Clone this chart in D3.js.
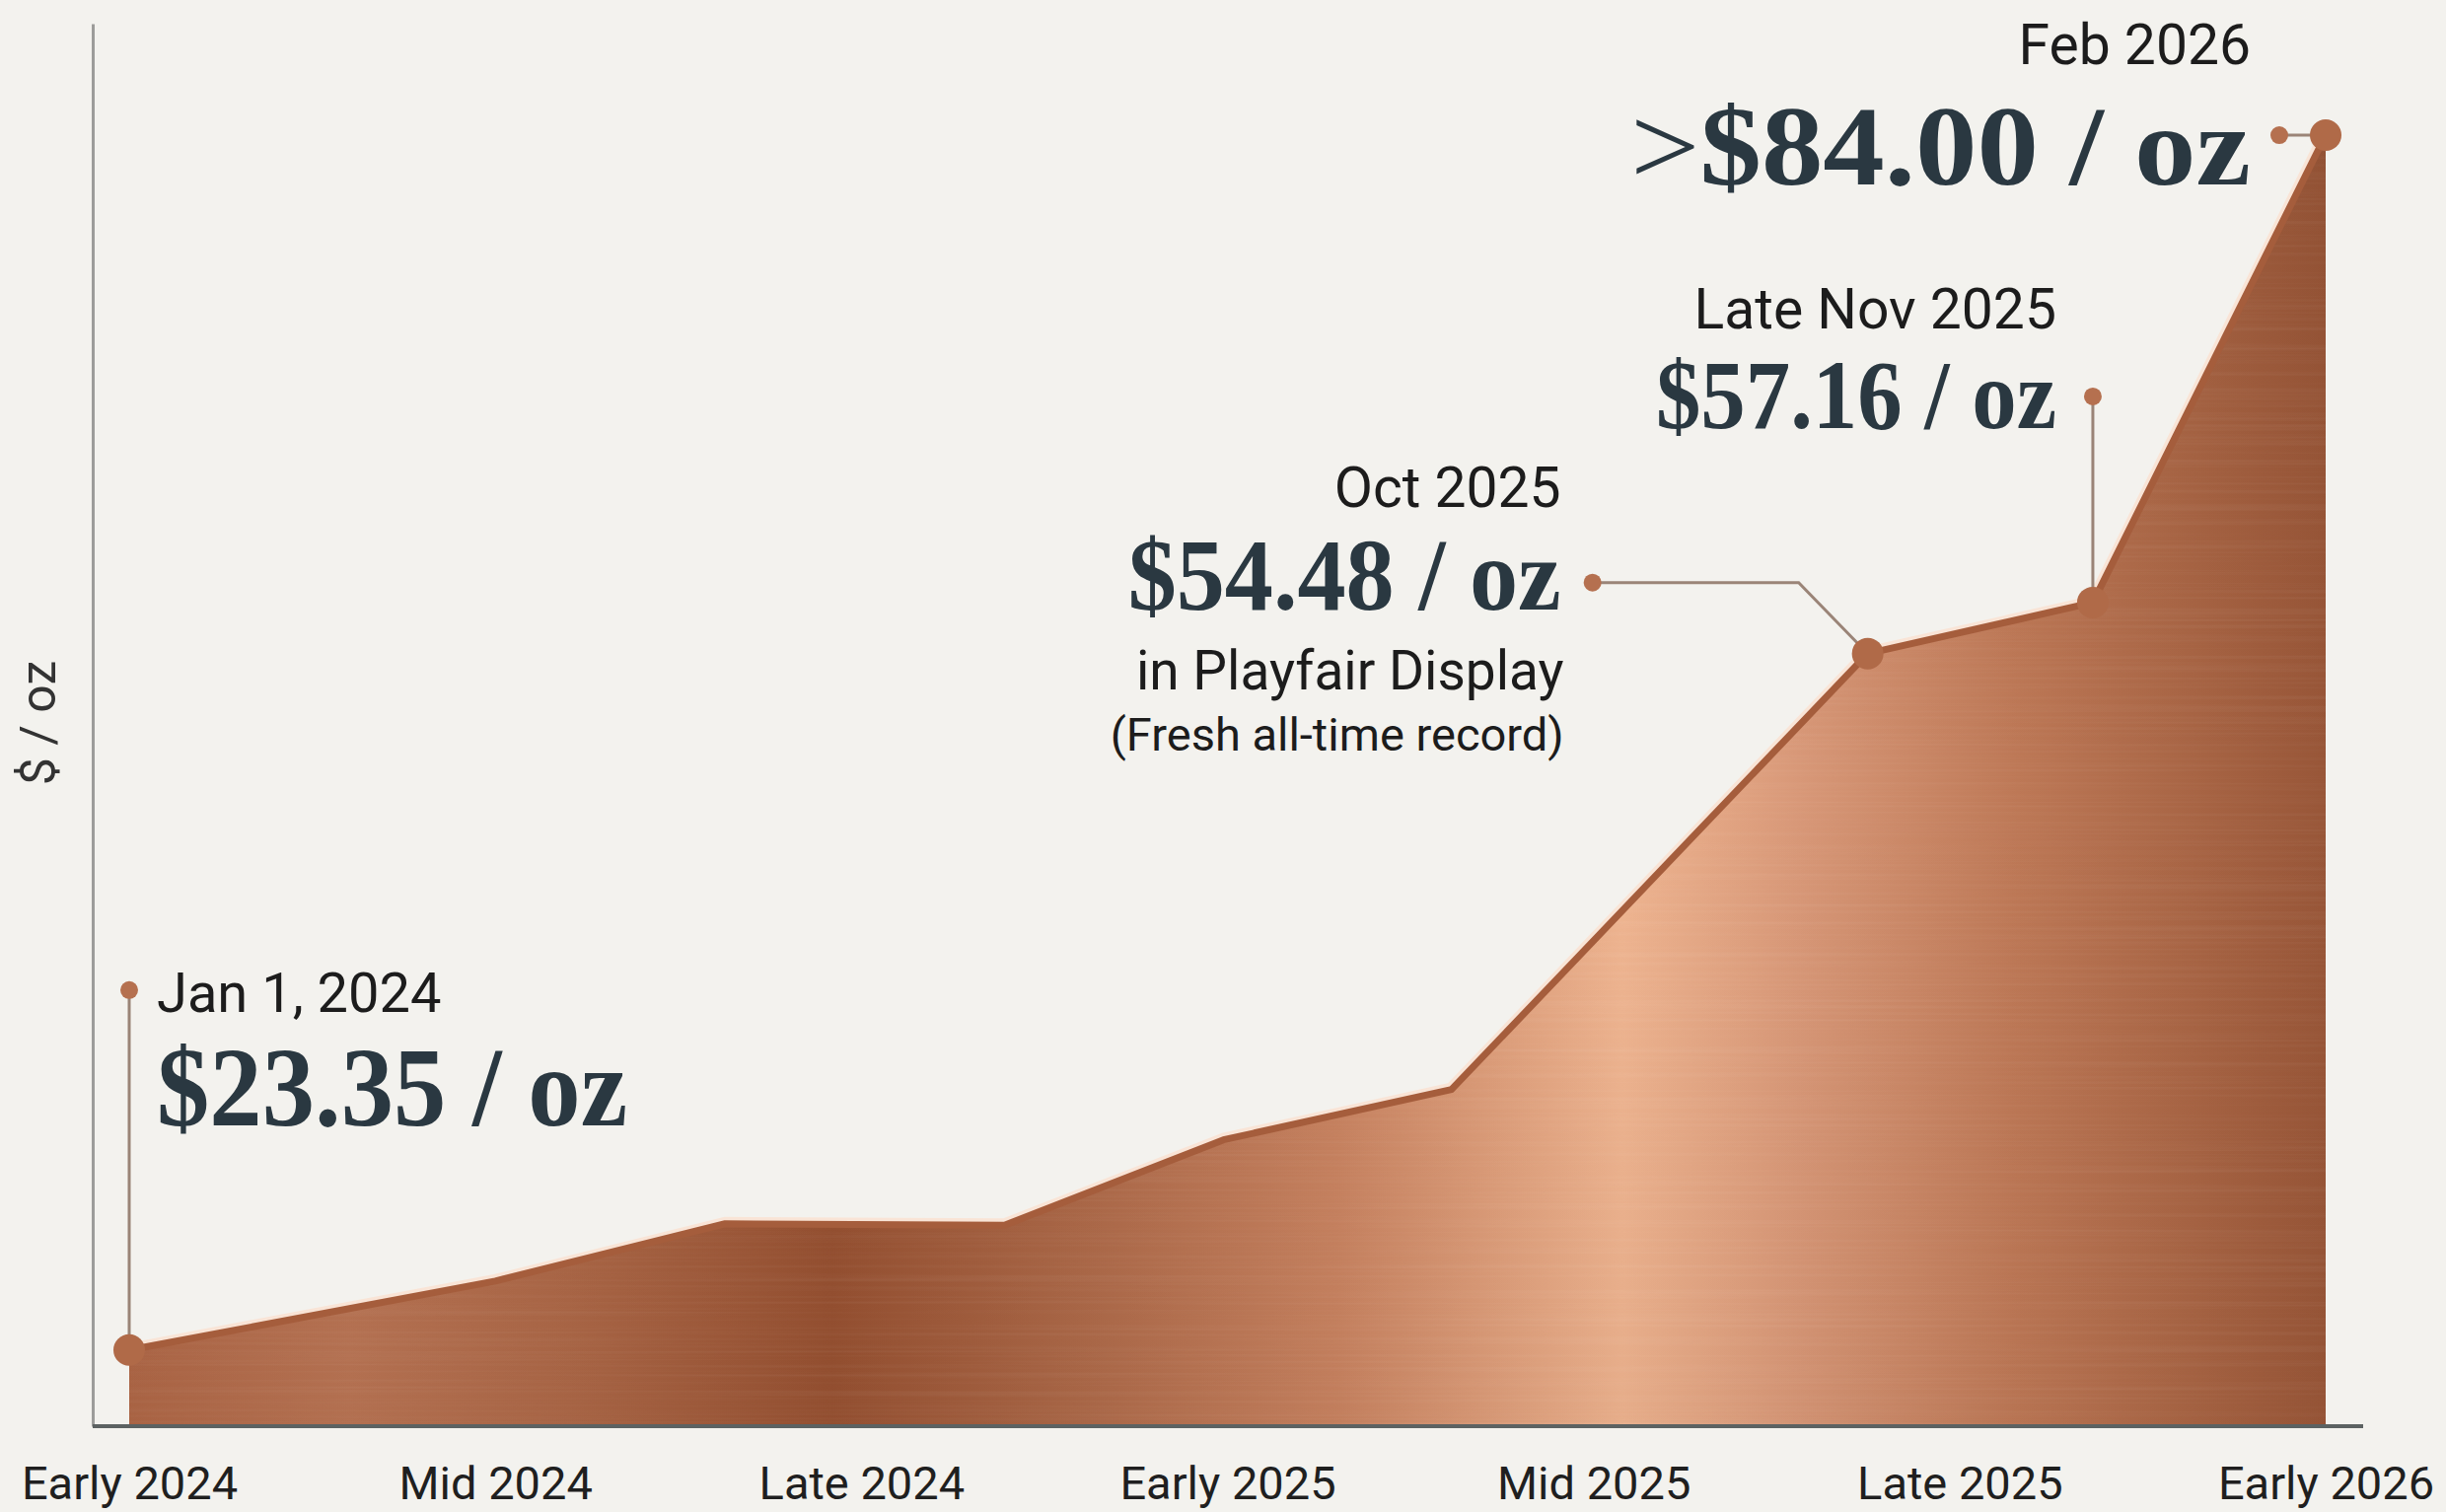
<!DOCTYPE html>
<html>
<head>
<meta charset="utf-8">
<script src="https://cdn.jsdelivr.net/npm/d3@7"></script>
<style>
  html, body { margin: 0; padding: 0; background: #f3f2ee; }
  svg { display: block; }
</style>
</head>
<body>
<svg id="chart" width="2480" height="1533"></svg>
<script>
// Timeline position: one unit per axis label interval (Early 2024 = 0 ... Early 2026 = 6)
const tickLabels = ["Early 2024", "Mid 2024", "Late 2024", "Early 2025", "Mid 2025", "Late 2025", "Early 2026"];
const tickPositions = [0, 1, 2, 3, 4, 5, 6];

// Silver price path, $ per troy ounce
const pointPositions = [0, 1.0, 1.628, 2.391, 2.989, 3.612, 4.749, 5.364, 6.0];
const priceValues    = [23.35, 25.96, 28.21, 28.15, 31.64, 33.77, 54.48, 57.16, 84.00];

// Highlighted points
const calloutIndex  = [0, 6, 7, 8];
const calloutDates  = ["Jan 1, 2024", "Oct 2025", "Late Nov 2025", "Feb 2026"];
const calloutPrefix = ["", "", "", ">"];
const calloutNotes  = [[], ["in Playfair Display", "(Fresh all-time record)"], [], []];

const svg = d3.select("#chart");

const x = d3.scaleLinear().domain([0, 6]).range([131, 2358]);
const y = d3.scalePow().exponent(0.6).domain([20.6, 91]).range([1446, 24]);

const data = pointPositions.map((t, i) => ({ t, v: priceValues[i] }));

// ---------- defs: copper gradient + brushed streaks ----------
const defs = svg.append("defs");
const grad = defs.append("linearGradient")
  .attr("id", "copper")
  .attr("gradientUnits", "userSpaceOnUse")
  .attr("x1", x(0)).attr("x2", x(6)).attr("y1", 0).attr("y2", 0);
[
  [0.00, "#ad6646"], [0.10, "#b87454"], [0.20, "#ab6747"], [0.32, "#955031"],
  [0.43, "#ab6848"], [0.55, "#c88361"], [0.68, "#efb591"], [0.76, "#d89878"],
  [0.86, "#bd7856"], [0.95, "#a56242"], [1.00, "#985638"]
].forEach(([o, c]) => grad.append("stop").attr("offset", o).attr("stop-color", c));

const shade = defs.append("linearGradient")
  .attr("id", "shade").attr("x1", 0).attr("x2", 0).attr("y1", 0).attr("y2", 1);
shade.append("stop").attr("offset", 0).attr("stop-color", "#5a2a14").attr("stop-opacity", 0.10);
shade.append("stop").attr("offset", 0.5).attr("stop-color", "#5a2a14").attr("stop-opacity", 0.0);
shade.append("stop").attr("offset", 1).attr("stop-color", "#5a2a14").attr("stop-opacity", 0.06);

const f = defs.append("filter").attr("id", "brushed")
  .attr("x", "0%").attr("y", "0%").attr("width", "100%").attr("height", "100%");
f.append("feTurbulence").attr("type", "fractalNoise")
  .attr("baseFrequency", "0.0015 0.3").attr("numOctaves", 2).attr("seed", 7).attr("result", "n");
f.append("feColorMatrix").attr("in", "n").attr("type", "matrix")
  .attr("values", "0 0 0 0 1  0 0 0 0 1  0 0 0 0 1  1.4 0 0 0 -0.6").attr("result", "streak");
f.append("feComposite").attr("in", "streak").attr("in2", "SourceAlpha").attr("operator", "in");

const line = d3.line().x(d => x(d.t)).y(d => y(d.v));
const area = d3.area().x(d => x(d.t)).y0(y(20.6)).y1(d => y(d.v));

// soft light halo just outside the rim (drawn first, so the fill covers its inner half)
svg.append("path").datum(data).attr("d", line)
  .attr("fill", "none").attr("stroke", "#f9e4d6").attr("stroke-width", 14)
  .attr("stroke-linejoin", "round");

// ---------- area ----------
svg.append("path").datum(data).attr("d", area).attr("fill", "url(#copper)");
svg.append("path").datum(data).attr("d", area).attr("fill", "url(#shade)");
svg.append("path").datum(data).attr("d", area).attr("fill", "#fff")
  .attr("filter", "url(#brushed)").attr("opacity", 0.08);

// copper rim
svg.append("path").datum(data).attr("d", line)
  .attr("fill", "none").attr("stroke", "#a55d3c").attr("stroke-width", 7)
  .attr("stroke-linejoin", "round");

// ---------- axes ----------
const yAxis = svg.append("g").attr("transform", "translate(94,0)")
  .call(d3.axisLeft(y).tickValues([]).tickSizeOuter(0));
yAxis.select(".domain").attr("stroke", "#9c9c9a").attr("stroke-width", 3);

svg.append("line")
  .attr("x1", 94).attr("x2", 2396).attr("y1", y(20.6)).attr("y2", y(20.6))
  .attr("stroke", "#5c6262").attr("stroke-width", 4);

const xAxis = svg.append("g").attr("transform", `translate(0,${y(20.6)})`)
  .call(d3.axisBottom(x).tickValues(tickPositions).tickFormat((d, i) => tickLabels[i]).tickSize(0));
xAxis.select(".domain").remove();
xAxis.selectAll("text")
  .attr("y", 74).attr("dy", 0)
  .attr("fill", "#1f1f1f")
  .style("font-family", "Roboto, 'Liberation Sans', sans-serif")
  .style("font-size", "47px");

svg.append("text")
  .attr("transform", "translate(39,733) rotate(-90)")
  .attr("text-anchor", "middle").attr("dominant-baseline", "central")
  .attr("fill", "#333")
  .style("font-family", "Roboto, 'Liberation Sans', sans-serif")
  .style("font-size", "50px")
  .text("$ / oz");

// ---------- callouts ----------
// Layout of each callout, relative to its point
const layout = [
  { dot: [0, -365], elbow: null, anchor: "start", tx: 28, dateDy: 22, priceDy: 137, priceSize: 114, priceW: 477, dateSize: 56 },
  { dot: [-279, -72], elbow: [-70, -72], anchor: "end", tx: -32, dateDy: -77, priceDy: 27, priceSize: 104, priceW: 439, dateSize: 57,
    notes: [{ dy: 108, size: 55 }, { dy: 170, size: 47 }] },
  { dot: [0, -209], elbow: null, anchor: "end", tx: -37, dateDy: -69, priceDy: 32, priceSize: 100, priceW: 406, dateSize: 57 },
  { dot: [-47, 0], elbow: null, anchor: "end", tx: -29, dateDy: -72, priceDy: 50, priceSize: 114, priceW: 629, dateSize: 57 }
];
const fmt = d3.format("$.2f");
const sans = "Roboto, 'Liberation Sans', sans-serif";
const serif = "'Liberation Serif', 'Times New Roman', serif";

calloutIndex.forEach((pi, k) => {
  const d = data[pi];
  const L = layout[k];
  const mx = x(d.t), my = y(d.v);
  const dx = mx + L.dot[0], dy = my + L.dot[1];
  const g = svg.append("g");

  const pts = [[dx, dy]];
  if (L.elbow) pts.push([mx + L.elbow[0], my + L.elbow[1]]);
  pts.push([mx, my]);
  g.append("path").attr("d", d3.line()(pts))
    .attr("fill", "none").attr("stroke", "#9a8477").attr("stroke-width", 3);
  g.append("circle").attr("cx", dx).attr("cy", dy).attr("r", 9).attr("fill", "#b5704f");
  g.append("circle").attr("cx", mx).attr("cy", my).attr("r", 16).attr("fill", "#b06a48");

  const tx = dx + L.tx;
  g.append("text").attr("x", tx).attr("y", dy + L.dateDy)
    .attr("text-anchor", L.anchor).attr("fill", "#1c1c1c")
    .style("font-family", sans).style("font-size", L.dateSize + "px")
    .text(calloutDates[k]);

  const pt = g.append("text").attr("x", tx).attr("y", dy + L.priceDy)
    .attr("text-anchor", L.anchor).attr("fill", "#2a3841")
    .attr("textLength", L.priceW).attr("lengthAdjust", "spacingAndGlyphs")
    .style("font-family", serif).style("font-size", L.priceSize + "px").style("font-weight", 700);
  if (calloutPrefix[k]) pt.append("tspan").style("font-weight", 400).text(calloutPrefix[k]);
  pt.append("tspan").text(fmt(d.v) + " / oz");

  (L.notes || []).forEach((n, j) => {
    g.append("text").attr("x", tx + 3).attr("y", dy + n.dy)
      .attr("text-anchor", L.anchor).attr("fill", "#1c1c1c")
      .style("font-family", sans).style("font-size", n.size + "px")
      .text(calloutNotes[k][j]);
  });
});
</script>
</body>
</html>
